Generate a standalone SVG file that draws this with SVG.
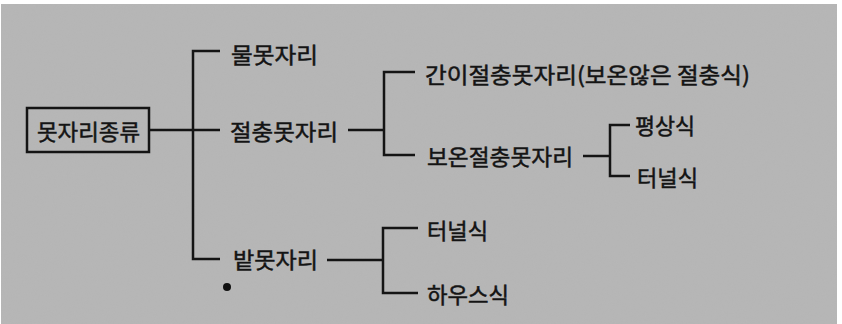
<svg xmlns="http://www.w3.org/2000/svg" width="842" height="324" viewBox="0 0 842 324">
  <defs>
    <filter id="grain" x="0" y="0" width="100%" height="100%">
      <feTurbulence type="fractalNoise" baseFrequency="0.9" numOctaves="2" seed="3" result="n"/>
      <feColorMatrix type="matrix" values="0 0 0 0 0.5  0 0 0 0 0.5  0 0 0 0 0.5  0 0 0 0.5 0" in="n"/>
      <feComposite in2="SourceGraphic" operator="in"/>
    </filter>
    <style>
      .t { font-family: "Noto Sans CJK KR", "Noto Sans", sans-serif; font-size: 22px; fill: #141414; stroke: #141414; stroke-width: 0.5; dominant-baseline: central; }
      .c { fill: none; stroke: #141414; stroke-width: 2.5; }
    </style>
  </defs>
  <rect x="0" y="0" width="842" height="324" fill="#ffffff"/>
  <rect x="1" y="4" width="836" height="320" fill="#b5b5b5"/>
  <rect x="1" y="4" width="836" height="320" fill="#b5b5b5" filter="url(#grain)" opacity="0.6"/>

  <g id="connectors">
    <path class="c" d="M149 130 H220"/>
    <path class="c" d="M220 51 H193 V259 H220"/>
    <path class="c" d="M348 130 H384"/>
    <path class="c" d="M415 72 H384 V155 H415"/>
    <path class="c" d="M583 156 H610"/>
    <path class="c" d="M630 125 H610 V176 H630"/>
    <path class="c" d="M327 260 H383"/>
    <path class="c" d="M418 228 H383 V293 H418"/>
  </g>

  <g id="root">
    <rect x="27" y="108" width="122" height="44" fill="none" stroke="#141414" stroke-width="2.5"/>
    <text class="t" x="37" y="130" textLength="103" lengthAdjust="spacingAndGlyphs">못자리종류</text>
  </g>
  <g id="n-water">
    <text class="t" x="231" y="53" textLength="87" lengthAdjust="spacingAndGlyphs">물못자리</text>
  </g>
  <g id="n-compromise">
    <text class="t" x="230" y="130" textLength="108" lengthAdjust="spacingAndGlyphs">절충못자리</text>
  </g>
  <g id="n-dry">
    <text class="t" x="233" y="258" textLength="85" lengthAdjust="spacingAndGlyphs">밭못자리</text>
  </g>
  <g id="n-simple">
    <text class="t" x="425" y="73" textLength="325" lengthAdjust="spacingAndGlyphs">간이절충못자리(보온않은 절충식)</text>
  </g>
  <g id="n-insulated">
    <text class="t" x="427" y="155" textLength="146" lengthAdjust="spacingAndGlyphs">보온절충못자리</text>
  </g>
  <g id="n-flat">
    <text class="t" x="635" y="124" textLength="60" lengthAdjust="spacingAndGlyphs">평상식</text>
  </g>
  <g id="n-tunnel1">
    <text class="t" x="637" y="176" textLength="61" lengthAdjust="spacingAndGlyphs">터널식</text>
  </g>
  <g id="n-tunnel2">
    <text class="t" x="427" y="229" textLength="61" lengthAdjust="spacingAndGlyphs">터널식</text>
  </g>
  <g id="n-house">
    <text class="t" x="427" y="293" textLength="82" lengthAdjust="spacingAndGlyphs">하우스식</text>
  </g>
  <circle cx="227" cy="287" r="4" fill="#111"/>
</svg>
